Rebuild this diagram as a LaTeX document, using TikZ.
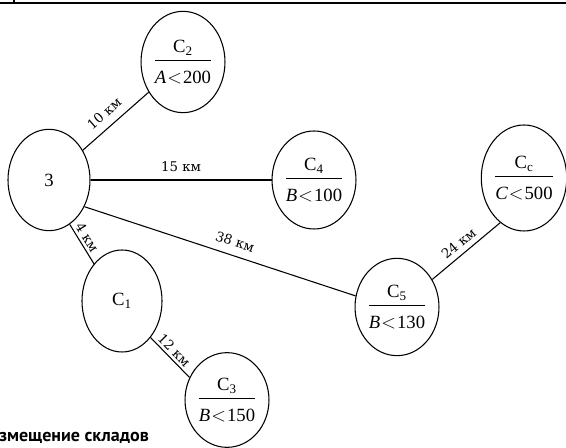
\documentclass[tikz,border=0pt]{standalone}
\usepackage{amsmath}
\usepackage{fontspec}
\newfontfamily\kmfont{DejaVu Serif}
\newfontfamily\sitefont{Liberation Serif}
\newfontfamily\capfont{PT Sans}
\usetikzlibrary{shapes.geometric}
\newcommand{\sitefrac}[3]{$\genfrac{}{}{0.8pt}{0}{\text{C}_{\text{#1}}}{\rule{0pt}{14.5pt}\text{\itshape #2}\mkern1mu{<}\mkern1mu\text{#3}}$}

\begin{document}
\begin{tikzpicture}[x=0.75pt, y=0.75pt,
		site/.style={draw, ellipse, line width=0.8pt, inner sep=0pt, minimum width=60pt, minimum height=76pt, font=\sitefont\fontsize{14}{16}\selectfont},
		road/.style={line width=0.8pt},
		dist/.style={sloped, above, inner sep=2pt, font=\kmfont\fontsize{10}{12}\selectfont}]

		\useasboundingbox (0,0) rectangle (566,448);
		\draw[line width=1pt] (0,445) -- (566,445);
		\draw[line width=1.2pt] (14,448) -- (14,445);

		\node[site, minimum width=61.5pt] (z)  at (49,268)  {3};
		\node[site, minimum height=76pt]  (c2) at (183,386) {\sitefrac{2}{A}{200}};
		\node[site, minimum height=73.5pt] (c4) at (314,268) {\sitefrac{4}{B}{100}};
		\node[site, minimum width=54pt, minimum height=79.5pt] (cc) at (524,270) {\sitefrac{c}{C}{500}};
		\node[site, minimum height=73pt]  (c5) at (397,141) {\sitefrac{5}{B}{130}};
		\node[site, minimum height=76.5pt] (c1) at (122,147) {C$_{\text{1}}$};
		\node[site, minimum height=71pt]  (c3) at (227,48)  {\sitefrac{3}{B}{150}};
		\node[anchor=west, inner sep=0pt, font=\capfont\bfseries\fontsize{13.5}{15}\selectfont] (caption) at (-1,10) {змещение складов};

		\draw[road] (z) -- node[dist, pos=0.46, above=4pt] {10 км} (c2);
		\draw[road] (z) -- node[dist, above=4pt] {15 км} (c4);
		\draw[road] (z.-37) -- node[dist, pos=0.54, above=4pt] {38 км} (c5.165);
		\draw[road] (z.-65) -- node[dist, pos=0.44] {4 км} (c1.127);
		\draw[road] (c1.-52) -- node[dist, pos=0.46] {12 км} (c3.149);
		\draw[road] (c5.38) -- node[dist, pos=0.49, above=2pt] {24 км} (cc.-118);
	\end{tikzpicture}
\end{document}
